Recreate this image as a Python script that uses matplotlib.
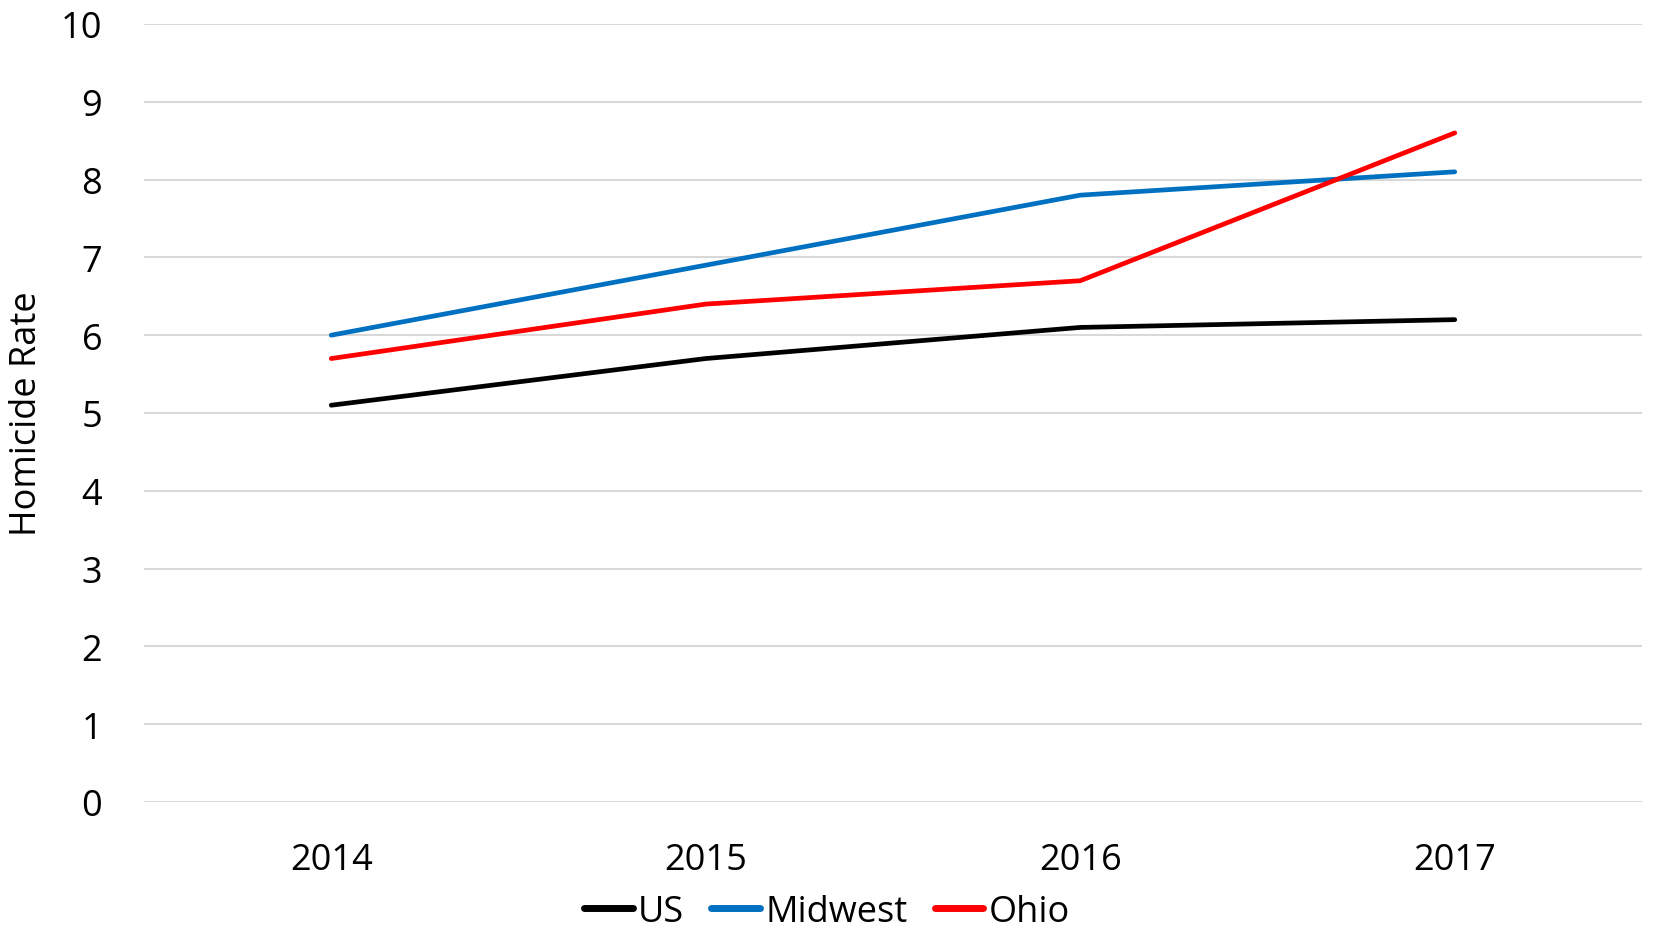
import matplotlib
matplotlib.use("Agg")
import matplotlib.pyplot as plt

years = ["2014", "2015", "2016", "2017"]
us = [5.1, 5.7, 6.1, 6.2]
midwest = [6.0, 6.9, 7.8, 8.1]
ohio = [5.7, 6.4, 6.7, 8.6]
yticks = [0, 1, 2, 3, 4, 5, 6, 7, 8, 9, 10]

plt.rcParams['font.family'] = ['Open Sans', 'DejaVu Sans']

fig = plt.figure(figsize=(16.54, 9.29), dpi=100)
ax = fig.add_axes([144/1654, 1-803/929, (1642-144)/1654, (803-25)/929])

x = list(range(len(years)))
ax.plot(x, us, color="#000000", lw=3.4, label="US", solid_capstyle="round")
ax.plot(x, midwest, color="#0070C0", lw=3.4, label="Midwest", solid_capstyle="round")
ax.plot(x, ohio, color="#FF0000", lw=3.4, label="Ohio", solid_capstyle="round")

ax.set_xlim(-0.5, 3.5)
ax.set_ylim(0, 10)
ax.set_yticks(yticks)
ax.set_xticks(x)
ax.set_xticklabels(years)
ax.grid(axis="y", color="#D9D9D9", lw=1.5)
ax.set_axisbelow(True)
for s in ax.spines.values():
    s.set_visible(False)
ax.tick_params(axis="both", length=0, labelsize=26)
ax.tick_params(axis="y", pad=30)
ax.tick_params(axis="x", pad=29)
ax.set_ylabel("Homicide Rate", fontsize=26)
ax.yaxis.set_label_coords(-0.066, 0.5)

leg = fig.legend(loc="lower center", bbox_to_anchor=(0.5, -0.037), ncol=3, frameon=False,
                 fontsize=26, handlelength=1.35, handletextpad=0.15, columnspacing=0.75)
for h in leg.get_lines():
    h.set_linewidth(5)
    h.set_solid_capstyle("round")

fig.savefig("out.png", dpi=100)
